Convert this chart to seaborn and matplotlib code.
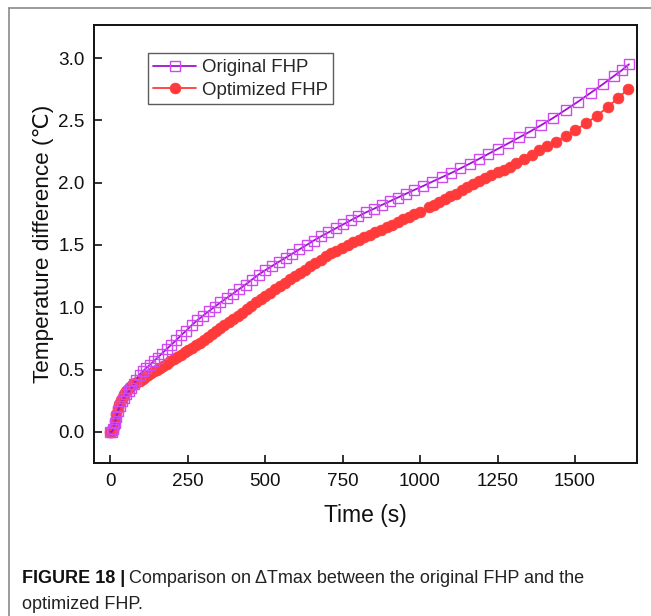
import matplotlib
matplotlib.use("Agg")
import matplotlib.pyplot as plt
from matplotlib.lines import Line2D
import seaborn as sns
import pandas as pd

# Original FHP: time (s) and max temperature difference (°C)
orig_time = [0, 5, 10, 15, 20, 26, 32, 38, 45, 52, 60, 68, 76, 85, 95, 105, 116, 128,
             140, 153, 167, 182, 197, 213, 229, 246, 263, 281, 299, 318, 337, 356, 376,
             396, 416, 437, 458, 479, 500, 522, 544, 566, 588, 611, 634, 657, 680, 704,
             728, 752, 776, 801, 826, 851, 876, 902, 928, 954, 980, 1010, 1040, 1070,
             1100, 1130, 1160, 1190, 1220, 1250, 1285, 1320, 1355, 1390, 1430, 1470,
             1510, 1550, 1590, 1625, 1650, 1674]
orig_dt = [0.0, 0.0, 0.02, 0.07, 0.12, 0.17, 0.21, 0.245, 0.275, 0.30, 0.325, 0.35, 0.38,
           0.42, 0.46, 0.485, 0.51, 0.538, 0.565, 0.595, 0.628, 0.663, 0.698, 0.735, 0.775,
           0.813, 0.855, 0.895, 0.93, 0.968, 1.003, 1.038, 1.074, 1.108, 1.145, 1.182,
           1.222, 1.262, 1.296, 1.33, 1.364, 1.397, 1.43, 1.465, 1.50, 1.535, 1.568, 1.60,
           1.633, 1.665, 1.697, 1.73, 1.762, 1.79, 1.82, 1.85, 1.88, 1.91, 1.94, 1.973,
           2.008, 2.043, 2.077, 2.114, 2.152, 2.19, 2.23, 2.27, 2.316, 2.363, 2.41, 2.46,
           2.52, 2.585, 2.65, 2.72, 2.79, 2.855, 2.90, 2.95]

# Optimized FHP
opt_time = [0, 4, 8, 12, 16, 20, 25, 30, 35, 40, 46, 52, 58, 65, 72, 80, 88, 96, 105, 114,
            123, 132, 142, 152, 162, 172, 183, 194, 205, 216, 228, 240, 252, 264, 276, 289,
            302, 315, 328, 341, 355, 369, 383, 397, 411, 426, 441, 456, 471, 486, 501, 516,
            532, 548, 564, 580, 596, 612, 628, 645, 662, 679, 696, 713, 730, 748, 766, 784,
            802, 820, 838, 856, 874, 892, 910, 928, 946, 964, 982, 1000, 1030, 1045, 1062,
            1080, 1098, 1116, 1134, 1152, 1170, 1190, 1210, 1230, 1250, 1270, 1290, 1310,
            1335, 1360, 1385, 1410, 1440, 1470, 1500, 1535, 1570, 1605, 1640, 1672]
opt_dt = [0.0, 0.0, 0.01, 0.04, 0.09, 0.14, 0.19, 0.225, 0.255, 0.28, 0.305, 0.325, 0.345,
          0.36, 0.375, 0.39, 0.40, 0.41, 0.425, 0.44, 0.455, 0.47, 0.485, 0.50, 0.515, 0.53,
          0.547, 0.565, 0.582, 0.60, 0.618, 0.637, 0.655, 0.675, 0.693, 0.715, 0.738, 0.76,
          0.783, 0.806, 0.83, 0.855, 0.88, 0.905, 0.93, 0.957, 0.984, 1.01, 1.038, 1.065,
          1.09, 1.116, 1.143, 1.17, 1.197, 1.224, 1.25, 1.276, 1.30, 1.327, 1.354, 1.38,
          1.41, 1.435, 1.455, 1.477, 1.499, 1.52, 1.542, 1.563, 1.583, 1.603, 1.623, 1.643,
          1.663, 1.683, 1.705, 1.726, 1.747, 1.768, 1.805, 1.823, 1.845, 1.867, 1.89, 1.912,
          1.937, 1.962, 1.987, 2.015, 2.038, 2.06, 2.083, 2.105, 2.128, 2.154, 2.19, 2.225,
          2.258, 2.29, 2.33, 2.375, 2.42, 2.476, 2.535, 2.605, 2.682, 2.75]

series_labels = ["Original FHP", "Optimized FHP"]
x_ticks = [0, 250, 500, 750, 1000, 1250, 1500]
y_ticks = [0.0, 0.5, 1.0, 1.5, 2.0, 2.5, 3.0]

sns.set_theme(style="ticks")
plt.rcParams["font.family"] = ["Liberation Sans", "DejaVu Sans"]

fig = plt.figure(figsize=(6.51, 6.16), dpi=100)
ax = fig.add_axes([0.1444, 0.2484, 0.8341, 0.711])

df_orig = pd.DataFrame({"t": orig_time, "dt": orig_dt})
df_opt = pd.DataFrame({"t": opt_time, "dt": opt_dt})

sns.lineplot(data=df_orig, x="t", y="dt", ax=ax, sort=False, color="#A012D2",
             linewidth=1.3, marker="s", markersize=7, markerfacecolor="none",
             markeredgecolor="#D048F0", markeredgewidth=1.0, label=series_labels[0],
             zorder=3)
sns.lineplot(data=df_opt, x="t", y="dt", ax=ax, sort=False, color="#FF3A3A",
             linewidth=1.3, marker="o", markersize=7.8, markerfacecolor="#FF3A3A",
             markeredgecolor="#FF3A3A", markeredgewidth=0.5, label=series_labels[1],
             zorder=2)

ax.set_xlim(-52, 1700)
ax.set_ylim(-0.25, 3.265)
ax.set_xticks(x_ticks)
ax.set_yticks(y_ticks)
ax.set_yticklabels([f"{v:.1f}" for v in y_ticks])
ax.tick_params(direction="in", length=6, width=1.2, labelsize=13.6,
               colors="#111111", pad=7)
for side in ["top", "right", "bottom", "left"]:
    ax.spines[side].set_visible(True)
    ax.spines[side].set_linewidth(1.4)
    ax.spines[side].set_color("#111111")

ax.set_xlabel("Time (s)", fontsize=16.5, color="#111111", labelpad=10)
ax.set_ylabel("Temperature difference (℃)", fontsize=16.2, color="#111111",
              labelpad=3, family=["Liberation Sans", "DejaVu Sans"])

leg = ax.legend(loc="upper left", bbox_to_anchor=(0.099, 0.935), borderaxespad=0,
                fontsize=13.4, frameon=True, fancybox=False, handlelength=2.3,
                handletextpad=0.3, borderpad=0.3, labelspacing=0.3)
leg.get_frame().set_edgecolor("#333333")
leg.get_frame().set_linewidth(1.0)

# Page frame around the figure panel
fig.add_artist(Line2D([9 / 651, 1.0], [1 - 8 / 616, 1 - 8 / 616], transform=fig.transFigure,
                      color="#8a8a8a", linewidth=1.2))
fig.add_artist(Line2D([9 / 651, 9 / 651], [0.0, 1 - 8 / 616], transform=fig.transFigure,
                      color="#8a8a8a", linewidth=1.2))

# Caption
cap_family = ["Liberation Sans Narrow", "Liberation Sans", "DejaVu Sans"]
t1 = fig.text(22 / 651, 1 - 583 / 616, "FIGURE 18 |", fontsize=13, fontweight="bold",
              family=cap_family, color="#111111", va="baseline")
fig.canvas.draw()
bb = t1.get_window_extent()
fig.text((bb.x1 + 4) / 651, 1 - 583 / 616,
         "Comparison on \u0394Tmax between the original FHP and the",
         fontsize=13, family=cap_family, color="#222222", va="baseline")
fig.text(22 / 651, 1 - 609 / 616, "optimized FHP.", fontsize=13, family=cap_family,
         color="#222222", va="baseline")

fig.savefig("out.png", dpi=100)
